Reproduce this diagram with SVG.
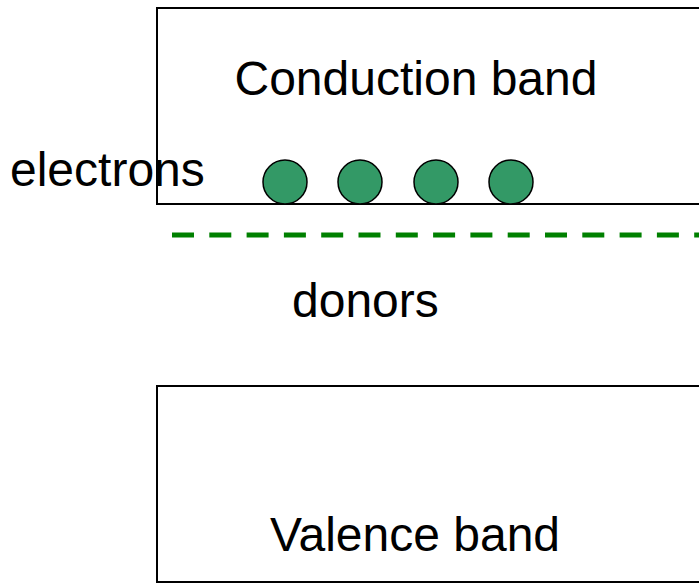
<svg xmlns="http://www.w3.org/2000/svg" width="699" height="583" viewBox="0 0 699 583">
  <style>
    .band { fill: #ffffff; stroke: #000000; stroke-width: 2; }
    .label { font-family: "Liberation Sans", Arial, sans-serif; font-size: 48px; fill: #000000; }
    .electron { fill: #339966; stroke: #000000; stroke-width: 1.5; }
    .donor-level { stroke: #008000; stroke-width: 5; stroke-dasharray: 22 15.3; fill: none; }
  </style>
  <rect width="699" height="583" fill="#ffffff"/>

  <g id="conduction-band">
    <rect class="band" x="157" y="8" width="560" height="196"/>
    <text class="label" x="234.5" y="94.5">Conduction band</text>
  </g>

  <g id="valence-band">
    <rect class="band" x="157" y="386" width="560" height="196"/>
    <text class="label" x="270" y="551">Valence band</text>
  </g>

  <g id="electrons-label">
    <text class="label" x="10" y="186">electrons</text>
  </g>

  <g id="electrons">
    <circle class="electron" cx="285" cy="182" r="22"/>
    <circle class="electron" cx="360" cy="182" r="22"/>
    <circle class="electron" cx="436" cy="182" r="22"/>
    <circle class="electron" cx="511" cy="182" r="22"/>
  </g>

  <g id="connectors">
    <line class="donor-level" x1="172" y1="235" x2="699" y2="235"/>
  </g>

  <g id="donors">
    <text class="label" x="292" y="316.5">donors</text>
  </g>
</svg>
